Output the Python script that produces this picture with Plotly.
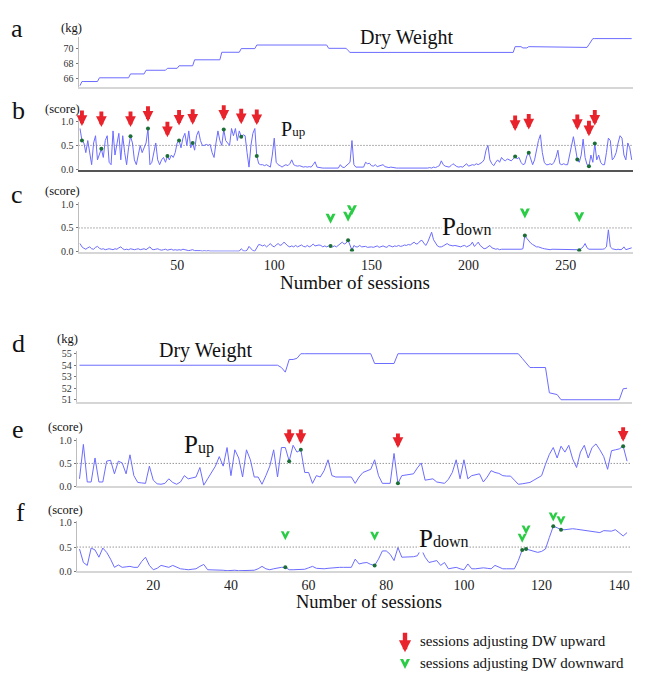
import plotly.graph_objects as go

W, H = 650, 677
SERIF = "Liberation Serif"
LINE_BLUE = "#6c6cff"
RED = "#e8232b"
GREEN = "#2bcc45"
DOT_GREEN = "#1c6e37"

# ---------------- patient 1 (panels a, b, c) ----------------
sessions_1 = list(range(0, 285))
dry_weight_1 = ([65.0] + [65.55] * 9 + [66.05] * 16 + [66.57] * 8 + [67.06] * 11 + [67.32] * 6
                + [67.66] * 8 + [68.46] * 14 + [69.47] * 10 + [69.96] * 8 + [70.44] * 37 + [70.0] * 10
                + [69.7] + [69.45] * 85 + [70.22] * 4 + [70.05] * 3 + [70.22] * 23 + [70.12] * 8
                + [70.5] + [71.0] + [71.3] * 21)
p_up_1 = [
    0.85, 0.6, 0.55, 0.35, 0.6, 0.3, 0.1, 0.55, 0.7, 0.2,
    0.3, 0.43, 0.25, 0.6, 0.7, 0.15, 0.1, 0.8, 0.3, 0.55,
    0.75, 0.2, 0.7, 0.35, 0.1, 0.45, 0.69, 0.55, 0.2, 0.1,
    0.3, 0.5, 0.35, 0.45, 0.55, 0.85, 0.1, 0.15, 0.35, 0.55,
    0.2, 0.1, 0.2, 0.25, 0.15, 0.28, 0.2, 0.3, 0.25, 0.35,
    0.55, 0.6, 0.45, 0.65, 0.75, 0.5, 0.8, 0.45, 0.55, 0.4,
    0.7, 0.8, 0.6, 0.5, 0.5, 0.52, 0.5, 0.52, 0.35, 0.25,
    0.55, 0.8, 0.6, 0.5, 0.83, 0.6, 0.55, 0.5, 0.85, 0.7,
    0.85, 0.6, 0.8, 0.68, 0.72, 0.7, 0.35, 0.05, 0.5, 0.75,
    0.85, 0.28, 0.12, 0.1, 0.1, 0.08, 0.1, 0.08, 0.05, 0.3,
    0.65, 0.15, 0.1, 0.08, 0.05, 0.08, 0.1, 0.08, 0.12, 0.2,
    0.1, 0.08, 0.07, 0.08, 0.06, 0.05, 0.06, 0.05, 0.06, 0.05,
    0.1, 0.16, 0.05, 0.04, 0.04, 0.03, 0.03, 0.03, 0.04, 0.03,
    0.04, 0.03, 0.04, 0.03, 0.1, 0.05, 0.04, 0.08, 0.1, 0.15,
    0.6, 0.1, 0.05, 0.05, 0.04, 0.05, 0.05, 0.15, 0.12, 0.13,
    0.08, 0.07, 0.1, 0.06, 0.07, 0.08, 0.1, 0.06, 0.05, 0.04,
    0.05, 0.04, 0.04, 0.03, 0.03, 0.03, 0.02, 0.02, 0.03, 0.02,
    0.02, 0.03, 0.02, 0.03, 0.02, 0.03, 0.02, 0.03, 0.02, 0.03,
    0.04, 0.03, 0.05, 0.04, 0.06, 0.08, 0.18, 0.1, 0.07, 0.06,
    0.05, 0.08, 0.12, 0.09, 0.06, 0.05, 0.06, 0.05, 0.08, 0.12,
    0.07, 0.08, 0.1, 0.09, 0.12, 0.1, 0.12, 0.15, 0.2, 0.4,
    0.5, 0.2, 0.12, 0.08, 0.15, 0.2, 0.15, 0.25, 0.2, 0.18,
    0.22, 0.2, 0.18, 0.22, 0.27, 0.22, 0.25, 0.15, 0.1, 0.12,
    0.28, 0.35, 0.2, 0.1, 0.2, 0.4, 0.6, 0.72, 0.35, 0.15,
    0.1, 0.1, 0.12, 0.1, 0.15, 0.25, 0.4, 0.12, 0.1, 0.12,
    0.1, 0.1, 0.3, 0.55, 0.68, 0.45, 0.21, 0.15, 0.3, 0.63,
    0.25, 0.1, 0.07, 0.3, 0.15, 0.54, 0.2, 0.3, 0.15, 0.1,
    0.1, 0.35, 0.65, 0.6, 0.2, 0.25, 0.35, 0.55, 0.7, 0.65,
    0.3, 0.2, 0.55, 0.45, 0.2,
]
p_down_1 = [
    0.17, 0.1, 0.07, 0.05, 0.08, 0.1, 0.06, 0.05, 0.09, 0.11,
    0.07, 0.05, 0.06, 0.04, 0.05, 0.06, 0.05, 0.04, 0.06, 0.05,
    0.08, 0.1, 0.06, 0.04, 0.05, 0.04, 0.06, 0.05, 0.04, 0.05,
    0.06, 0.04, 0.05, 0.06, 0.04, 0.07, 0.1, 0.05, 0.04, 0.05,
    0.06, 0.04, 0.03, 0.04, 0.05, 0.03, 0.04, 0.05, 0.03, 0.04,
    0.03, 0.04, 0.03, 0.05, 0.04, 0.03, 0.02, 0.03, 0.04, 0.02,
    0.02, 0.03, 0.02, 0.01, 0.02, 0.01, 0.02, 0.01, 0.01, 0.02,
    0.01, 0.01, 0.02, 0.01, 0.02, 0.01, 0.01, 0.02, 0.01, 0.02,
    0.01, 0.02, 0.01, 0.06, 0.02, 0.01, 0.03, 0.11, 0.06, 0.02,
    0.01, 0.08, 0.15, 0.14, 0.12, 0.14, 0.1, 0.13, 0.17, 0.12,
    0.1, 0.14, 0.17, 0.13, 0.15, 0.2, 0.15, 0.12, 0.1, 0.12,
    0.1, 0.13, 0.1, 0.12, 0.14, 0.11, 0.1, 0.13, 0.1, 0.12,
    0.16, 0.12, 0.13, 0.14, 0.13, 0.1, 0.12, 0.1, 0.12, 0.12,
    0.1, 0.12, 0.1, 0.14, 0.17, 0.2, 0.16, 0.18, 0.24, 0.15,
    0.03, 0.13, 0.1, 0.1, 0.13, 0.1, 0.1, 0.11, 0.09, 0.1,
    0.1, 0.09, 0.1, 0.12, 0.09, 0.1, 0.12, 0.1, 0.09, 0.13,
    0.11, 0.1, 0.12, 0.11, 0.13, 0.11, 0.12, 0.14, 0.13, 0.15,
    0.14, 0.17, 0.2, 0.16, 0.17, 0.22, 0.24, 0.18, 0.13, 0.2,
    0.3, 0.41, 0.25, 0.17, 0.12, 0.1, 0.1, 0.12, 0.15, 0.17,
    0.14, 0.13, 0.12, 0.13, 0.12, 0.11, 0.1, 0.12, 0.13, 0.1,
    0.12, 0.14, 0.2, 0.11, 0.15, 0.2, 0.13, 0.1, 0.06, 0.07,
    0.1, 0.13, 0.08, 0.06, 0.05, 0.06, 0.04, 0.05, 0.05, 0.04,
    0.05, 0.05, 0.04, 0.05, 0.05, 0.04, 0.05, 0.05, 0.06, 0.34,
    0.28, 0.22, 0.18, 0.15, 0.12, 0.1, 0.1, 0.08, 0.07, 0.06,
    0.05, 0.05, 0.04, 0.05, 0.05, 0.04, 0.05, 0.05, 0.04, 0.05,
    0.05, 0.04, 0.05, 0.05, 0.04, 0.05, 0.04, 0.03, 0.06, 0.1,
    0.17, 0.08, 0.05, 0.05, 0.04, 0.05, 0.05, 0.04, 0.05, 0.05,
    0.06, 0.1, 0.46, 0.1, 0.06, 0.05, 0.04, 0.05, 0.04, 0.05,
    0.1, 0.04, 0.05, 0.06, 0.08,
]
up_sessions_1 = [1, 11, 26, 35, 45, 51, 58, 74, 83, 91, 224, 231, 256, 262, 265]
up_marker_level_1 = [0.9, 0.88, 0.88, 0.99, 0.67, 0.91, 0.93, 1.01, 0.94, 0.92, 0.8, 0.83, 0.82, 0.69, 0.91]
down_sessions_1 = [129, 138, 140, 229, 257]
down_marker_level_1 = [0.59, 0.63, 0.77, 0.7, 0.62]

# ---------------- patient 2 (panels d, e, f) ----------------
sessions_2 = list(range(1, 143))
dry_weight_2 = ([54.0] * 52 + [53.8, 53.4, 54.5, 54.5, 54.6] + [55.0] * 19 + [54.15] * 6 + [55.0] * 32
                + [54.6, 54.2] + [53.8] * 5 + [51.6, 51.55, 51.45] + [51.0] * 16 + [51.95, 52.0])
p_up_2 = [
    0.16, 0.92, 0.09, 0.09, 0.62, 0.09, 0.09, 0.55, 0.57, 0.27,
    0.55, 0.51, 0.27, 0.69, 0.23, 0.08, 0.07, 0.06, 0.44, 0.13,
    0.05, 0.04, 0.06, 0.16, 0.08, 0.04, 0.09, 0.23, 0.16, 0.18,
    0.2, 0.41, 0.02, 0.16, 0.3, 0.44, 0.65, 0.44, 0.85, 0.23,
    0.8, 0.62, 0.2, 0.8, 0.58, 0.2, 0.2, 0.04, 0.23, 0.44,
    0.8, 0.2, 0.85, 0.85, 0.55, 0.9, 0.75, 0.8, 0.3, 0.3,
    0.06, 0.23, 0.2, 0.34, 0.58, 0.23, 0.2, 0.2, 0.2, 0.21,
    0.2, 0.06, 0.2, 0.3, 0.34, 0.37, 0.58, 0.23, 0.06, 0.06,
    0.06, 0.72, 0.06, 0.23, 0.24, 0.25, 0.27, 0.4, 0.51, 0.13,
    0.15, 0.16, 0.09, 0.08, 0.06, 0.15, 0.3, 0.58, 0.16, 0.58,
    0.16, 0.23, 0.25, 0.27, 0.09, 0.2, 0.34, 0.3, 0.28, 0.23,
    0.22, 0.22, 0.13, 0.04, 0.05, 0.06, 0.08, 0.13, 0.18, 0.23,
    0.48, 0.7, 0.85, 0.62, 0.88, 0.75, 0.9, 0.6, 0.41, 0.75,
    0.9, 0.62, 0.85, 0.93, 0.8, 0.65, 0.37, 0.78, 0.8, 0.82,
    0.88, 0.55,
]
p_down_2 = [
    0.46, 0.18, 0.12, 0.48, 0.44, 0.29, 0.48, 0.39, 0.25, 0.08,
    0.13, 0.08, 0.09, 0.1, 0.08, 0.08, 0.2, 0.29, 0.12, 0.03,
    0.06, 0.12, 0.1, 0.08, 0.12, 0.08, 0.05, 0.04, 0.03, 0.04,
    0.05, 0.1, 0.14, 0.03, 0.03, 0.02, 0.02, 0.02, 0.01, 0.02,
    0.02, 0.01, 0.01, 0.01, 0.01, 0.02, 0.05, 0.1, 0.05, 0.03,
    0.05, 0.07, 0.08, 0.08, 0.03, 0.03, 0.03, 0.03, 0.04, 0.07,
    0.1, 0.06, 0.05, 0.05, 0.06, 0.07, 0.07, 0.08, 0.08, 0.08,
    0.08, 0.25, 0.15, 0.17, 0.18, 0.14, 0.12, 0.25, 0.42, 0.42,
    0.35, 0.22, 0.49, 0.29, 0.29, 0.29, 0.3, 0.32, 0.46, 0.29,
    0.18, 0.2, 0.22, 0.12, 0.18, 0.05, 0.06, 0.08, 0.05, 0.03,
    0.15, 0.05, 0.05, 0.06, 0.07, 0.06, 0.05, 0.12, 0.08, 0.05,
    0.05, 0.05, 0.05, 0.22, 0.44, 0.46, 0.44, 0.42, 0.39, 0.41,
    0.46, 0.7, 0.93, 0.9, 0.86, 0.86, 0.87, 0.88, 0.87, 0.86,
    0.85, 0.84, 0.83, 0.82, 0.8, 0.84, 0.83, 0.83, 0.86, 0.8,
    0.73, 0.8,
]
up_sessions_2 = [55, 58, 83, 141]
up_marker_level_2 = [0.93, 0.93, 0.84, 0.98]
down_sessions_2 = [54, 77, 115, 116, 123, 125]
down_marker_level_2 = [0.64, 0.63, 0.59, 0.76, 1.03, 0.95]

x_ticks_1 = [50, 100, 150, 200, 250]
x_ticks_2 = [20, 40, 60, 80, 100, 120, 140]
score_ticks = [0.0, 0.5, 1.0]
kg_ticks_1 = [66, 68, 70]
kg_ticks_2 = [51, 52, 53, 54, 55]

legend_labels = ["sessions adjusting DW upward", "sessions adjusting DW downward"]


def pxx(px):
    return px / W


def pxy(py):
    return 1 - py / H


fig = go.Figure()


def line_trace(x, y, ax):
    fig.add_trace(go.Scatter(x=x, y=y, xaxis="x" + ax, yaxis="y" + ax, mode="lines",
                             line=dict(color=LINE_BLUE, width=1), hoverinfo="skip", showlegend=False))


line_trace(sessions_1, dry_weight_1, "")
line_trace(sessions_1, p_up_1, "2")
line_trace(sessions_1, p_down_1, "3")
line_trace(sessions_2, dry_weight_2, "4")
line_trace(sessions_2, p_up_2, "5")
line_trace(sessions_2, p_down_2, "6")


def dots(xs, series, x0, ax):
    fig.add_trace(go.Scatter(x=xs, y=[series[s - x0] for s in xs], xaxis="x" + ax, yaxis="y" + ax,
                             mode="markers", marker=dict(color=DOT_GREEN, size=4),
                             showlegend=False, hoverinfo="skip"))


dots(up_sessions_1, p_up_1, 0, "2")
dots(down_sessions_1, p_down_1, 0, "3")
dots(up_sessions_2, p_up_2, 1, "5")
dots(down_sessions_2, p_down_2, 1, "6")


def chevrons(xs, ys, ax, size=9):
    fig.add_trace(go.Scatter(x=xs, y=ys, xaxis="x" + ax, yaxis="y" + ax, mode="markers", cliponaxis=False,
                             marker=dict(symbol="arrow-up", angle=180, size=size, color=GREEN,
                                         line=dict(width=0)),
                             showlegend=False, hoverinfo="skip"))
    fig.add_trace(go.Scatter(x=xs, y=ys, xaxis="x" + ax, yaxis="y" + ax, mode="markers", cliponaxis=False,
                             marker=dict(symbol="arrow-up", angle=180, size=size * 0.55, color="white",
                                         standoff=size * 0.62, line=dict(width=0)),
                             showlegend=False, hoverinfo="skip"))


chevrons(down_sessions_1, down_marker_level_1, "3", 10)
chevrons(down_sessions_2, down_marker_level_2, "6", 9)
# legend chevron on an overlay axis measured in page pixels
chevrons([405], [675], "7", 10)


def xaxis(d0, d1, rng, anchor, ticks=None, linecolor="#d6d6d6"):
    return dict(domain=[pxx(d0), pxx(d1)], range=rng, anchor=anchor, showline=True, linecolor=linecolor,
                linewidth=2, showgrid=False, zeroline=False, ticks="", tickvals=ticks or [],
                showticklabels=bool(ticks), tickfont=dict(family=SERIF, size=14, color="#222"))


def yaxis(top, bottom, rng, anchor, ticks, fmt):
    return dict(domain=[pxy(bottom), pxy(top)], range=rng, anchor=anchor, showline=True, linecolor="#bdbdbd",
                linewidth=1, showgrid=False, zeroline=False, ticks="outside", ticklen=2, tickcolor="#777",
                tickvals=ticks, tickformat=fmt, tickfont=dict(family=SERIF, size=10, color="#333"))


XR1 = [-0.77, 284.67]
XR2 = [0.28, 143.2]

layout = dict(
    width=W, height=H, autosize=False, margin=dict(l=0, r=0, t=0, b=0),
    paper_bgcolor="white", plot_bgcolor="rgba(0,0,0,0)", showlegend=False,
    xaxis=xaxis(78.5, 633, XR1, "y"),
    yaxis=yaxis(33, 84, [64.85, 71.58], "x", kg_ticks_1, "d"),
    xaxis2=xaxis(78.5, 633, XR1, "y2", linecolor="#555"),
    yaxis2=yaxis(115, 168, [0, 1.082], "x2", score_ticks, ".1f"),
    xaxis3=xaxis(78.5, 633, XR1, "y3", x_ticks_1),
    yaxis3=yaxis(201, 251.3, [0, 1.048], "x3", score_ticks, ".1f"),
    xaxis4=xaxis(76.7, 631.7, XR2, "y4"),
    yaxis4=yaxis(351.7, 404, [50.8, 55.28], "x4", kg_ticks_2, "d"),
    xaxis5=xaxis(76.7, 631.7, XR2, "y5"),
    yaxis5=yaxis(441, 489.3, [0, 1.05], "x5", score_ticks, ".1f"),
    xaxis6=xaxis(76.7, 631.7, XR2, "y6", x_ticks_2),
    yaxis6=yaxis(525, 575.7, [0, 1.035], "x6", score_ticks, ".1f"),
    xaxis7=dict(domain=[0, 1], range=[0, W], anchor="y7", visible=False, fixedrange=True),
    yaxis7=dict(domain=[0, 1], range=[H, 0], anchor="x7", visible=False, fixedrange=True),
)
fig.update_layout(**layout)

# dotted 0.5 reference lines
shapes = []
for ax, rng in (("2", XR1), ("3", XR1), ("5", XR2), ("6", XR2)):
    shapes.append(dict(type="line", xref="x" + ax, yref="y" + ax, x0=rng[0], x1=rng[1], y0=0.5, y1=0.5,
                       line=dict(color="#666", width=1, dash="1px,2px"), layer="below"))
fig.update_layout(shapes=shapes)

ann = []


def text(px, py, s, size, anchor="center", bg=None):
    d = dict(x=pxx(px), y=pxy(py), xref="paper", yref="paper", text=s, showarrow=False,
             xanchor=anchor, yanchor="middle", font=dict(family=SERIF, size=size, color="#111"))
    if bg:
        d.update(bgcolor=bg, borderpad=0)
    ann.append(d)


def red_arrows(xs, ys, ax, length=17):
    for x, y in zip(xs, ys):
        ann.append(dict(x=x, y=y, xref="x" + ax, yref="y" + ax, ax=0, ay=-length, text="", showarrow=True,
                        arrowhead=2, arrowsize=0.55, arrowwidth=3.9, arrowcolor=RED, standoff=0))


red_arrows(up_sessions_1, up_marker_level_1, "2", 17)
red_arrows(up_sessions_2, up_marker_level_2, "5", 16)

for letter, (lx, ly) in zip("abcdef", [(17, 25), (18, 108), (17, 193), (18, 345), (18, 432), (20, 516)]):
    text(lx, ly, letter, 26)
for unit, (ux, uy) in zip(["(kg)", "(score)", "(score)", "(kg)", "(score)", "(score)"],
                          [(71, 24), (62, 107), (62, 190), (67, 340), (65, 429), (65, 514)]):
    text(ux, uy, unit, 12.5)

text(406, 34, "Dry Weight", 20)
text(205, 352, "Dry Weight", 20)
text(293, 127, "P<span style='font-size:13px'>up</span>", 20)
text(466, 226, "P<span style='font-size:16px'>down</span>", 25, bg="white")
text(199, 447, "P<span style='font-size:16px'>up</span>", 25)
text(444, 543, "P<span style='font-size:16px'>down</span>", 25, bg="white")
text(355, 283, "Number of sessions", 19)
text(369, 607, "Number of sessions", 18.5)

# legend
ann.append(dict(x=pxx(405), y=pxy(658), xref="paper", yref="paper", ax=0, ay=-21, text="", showarrow=True,
                arrowhead=2, arrowsize=0.55, arrowwidth=4.4, arrowcolor=RED, standoff=0))
text(418, 647, legend_labels[0], 15, anchor="left")
text(418, 669, legend_labels[1], 15, anchor="left")

fig.update_layout(annotations=ann)

fig.write_html("out.html", config={"displayModeBar": False},
               post_script="document.body.style.margin='0';document.body.style.overflow='hidden';")
